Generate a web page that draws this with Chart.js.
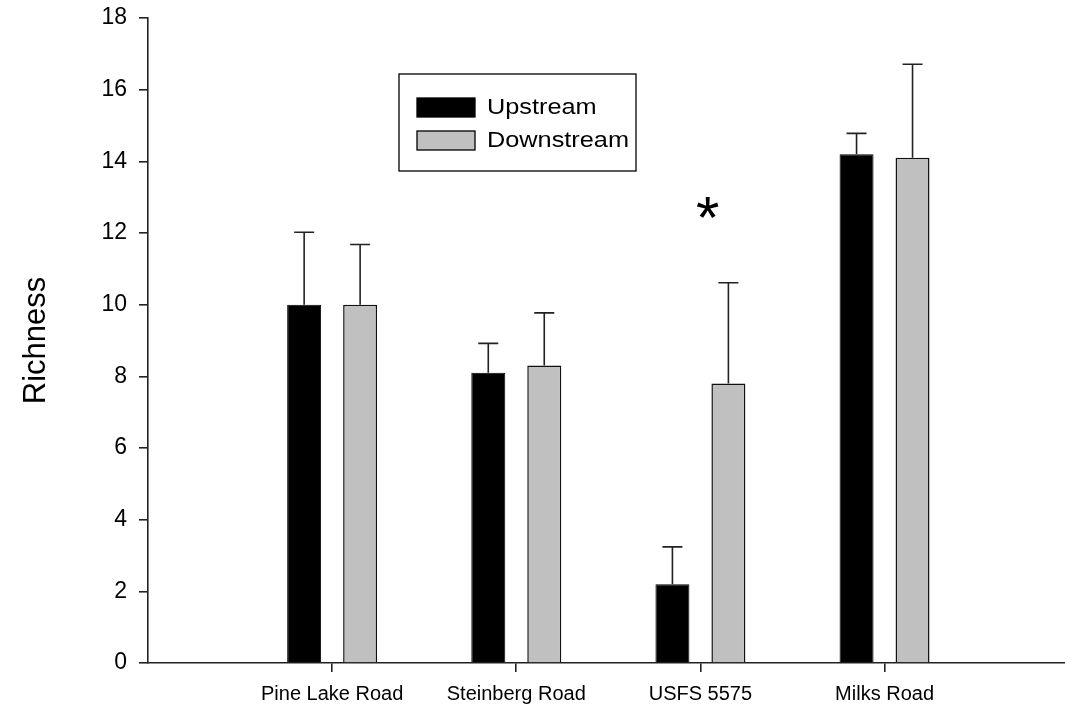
<!DOCTYPE html>
<html>
<head>
<meta charset="utf-8">
<script src="https://cdn.jsdelivr.net/npm/chart.js@4.4.1/dist/chart.umd.min.js"></script>
<style>
  html, body { margin: 0; padding: 0; background: #fff; }
</style>
</head>
<body>
<canvas id="myChart" width="1065" height="711"></canvas>
<script>
'use strict';

// data
const sites = ['Pine Lake Road', 'Steinberg Road', 'USFS 5575', 'Milks Road'];
const upstream = [10.0, 8.1, 2.2, 14.2];
const upstreamErr = [2.02, 0.82, 1.04, 0.58];
const downstream = [10.0, 8.3, 7.8, 14.1];
const downstreamErr = [1.68, 1.47, 2.81, 2.61];
const yTicks = [0, 2, 4, 6, 8, 10, 12, 14, 16, 18];
const marks = [{ x: 3.04, y: 12.7, text: '*' }];

const FONT = "'Liberation Sans', Arial, sans-serif";
const AXIS = '#222';

var richness_chart = (function () {

  const ctx = document.getElementById('myChart');

  const toPoints = (arr) => arr.map((v, i) => ({ x: i + 1, y: v }));

  const errorBars = {
    id: 'errorBars',
    afterDatasetsDraw: (chart) => {
      const c = chart.ctx;
      const yScale = chart.scales.y;
      c.save();
      c.strokeStyle = AXIS;
      c.lineWidth = 1.6;
      chart.data.datasets.forEach((ds, di) => {
        const meta = chart.getDatasetMeta(di);
        meta.data.forEach((bar, i) => {
          const top = yScale.getPixelForValue(ds.data[i].y + ds.errors[i]);
          c.beginPath();
          c.moveTo(bar.x, bar.y);
          c.lineTo(bar.x, top);
          c.moveTo(bar.x - 10, top);
          c.lineTo(bar.x + 10, top);
          c.stroke();
        });
      });
      c.restore();
    }
  };

  const boxLegend = {
    id: 'boxLegend',
    afterDraw: (chart) => {
      const c = chart.ctx;
      const a = chart.chartArea;
      const x0 = a.left + 251, y0 = a.top + 56;
      c.save();
      c.strokeStyle = '#000';
      c.lineWidth = 1.3;
      c.strokeRect(x0, y0, 237, 97);
      c.font = '22px ' + FONT;
      c.textBaseline = 'alphabetic';
      chart.data.datasets.forEach((ds, i) => {
        const sy = y0 + 24 + i * 33;
        c.fillStyle = ds.backgroundColor;
        c.fillRect(x0 + 18, sy, 58, 19);
        c.strokeRect(x0 + 18, sy, 58, 19);
        c.fillStyle = '#000';
        // the original lettering is a little wider than the font
        c.save();
        c.translate(x0 + 88, sy + 16);
        c.scale(1.15, 1);
        c.fillText(ds.label, 0, 0);
        c.restore();
      });
      c.restore();
    }
  };

  const notes = {
    id: 'notes',
    afterDraw: (chart) => {
      const c = chart.ctx;
      c.save();
      c.fillStyle = '#000';
      c.font = '60px ' + FONT;
      c.textAlign = 'center';
      marks.forEach(m => {
        const px = chart.scales.x.getPixelForValue(m.x);
        const py = chart.scales.y.getPixelForValue(m.y);
        const tm = c.measureText(m.text);
        const off = (tm.actualBoundingBoxAscent - tm.actualBoundingBoxDescent) / 2;
        c.fillText(m.text, px, py + off);
      });
      c.restore();
    }
  };

  const config = {
    type: 'bar',
    data: {
      datasets: [
        {
          label: 'Upstream',
          data: toPoints(upstream),
          errors: upstreamErr,
          backgroundColor: '#000000',
          borderColor: '#000000',
          borderWidth: 1
        },
        {
          label: 'Downstream',
          data: toPoints(downstream),
          errors: downstreamErr,
          backgroundColor: '#c0c0c0',
          borderColor: '#111111',
          borderWidth: 1.5
        }
      ]
    },
    options: {
      responsive: false,
      animation: false,
      categoryPercentage: 0.608,
      barPercentage: 0.607,
      layout: { padding: { top: 18, right: 0, left: 0, bottom: 0 } },
      plugins: {
        legend: { display: false },
        tooltip: { enabled: false }
      },
      scales: {
        x: {
          type: 'linear',
          min: 0,
          max: 4.98,
          offset: false,
          afterBuildTicks: (s) => { s.ticks = sites.map((n, i) => ({ value: i + 1 })); },
          afterFit: (s) => { s.height = 48; },
          ticks: {
            autoSkip: false,
            maxRotation: 0,
            padding: 10,
            color: '#000',
            font: { family: FONT, size: 20 },
            callback: (v) => sites[v - 1]
          },
          grid: { offset: false, drawOnChartArea: false, drawTicks: true, tickLength: 9, color: AXIS, lineWidth: 1.6 },
          border: { display: true, color: AXIS, width: 1.6 }
        },
        y: {
          min: 0,
          max: 18,
          afterBuildTicks: (s) => { s.ticks = yTicks.map(v => ({ value: v })); },
          afterFit: (s) => { s.width = 148; s.paddingTop = 0; s.paddingBottom = 0; },
          ticks: {
            padding: 12,
            color: '#000',
            font: { family: FONT, size: 23 }
          },
          grid: { drawOnChartArea: false, drawTicks: true, tickLength: 9, color: AXIS, lineWidth: 1.6 },
          border: { display: true, color: AXIS, width: 1.6 },
          title: {
            display: true,
            text: 'Richness',
            color: '#000',
            font: { family: FONT, size: 31 },
            padding: { top: 18, bottom: 0 }
          }
        }
      }
    },
    plugins: [errorBars, boxLegend, notes]
  };

  return new Chart(ctx, config);

})();
</script>
</body>
</html>
